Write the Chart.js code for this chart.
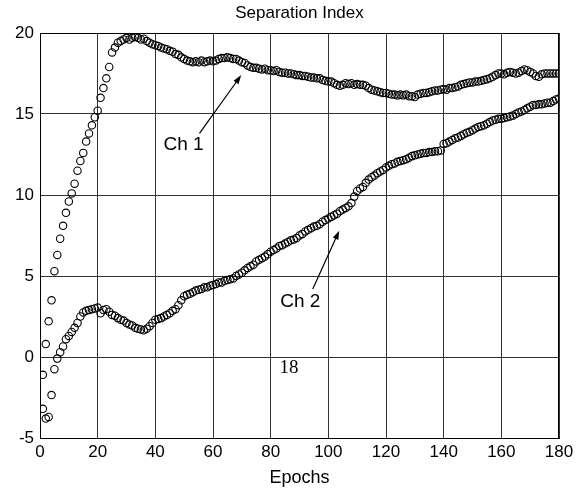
<!DOCTYPE html>
<html>
<head>
<meta charset="utf-8">
<title>Separation Index</title>
<script src="https://cdn.jsdelivr.net/npm/chart.js@4.4.1/dist/chart.umd.min.js"></script>
<style>
  html, body { margin: 0; padding: 0; background: #fff; }
  canvas { display: block; }
</style>
</head>
<body>
<canvas id="chart" width="579" height="496"></canvas>
<script>
// values, one per epoch (1..180)
const ch1 = [
  -1.1, 0.8, 2.2, 3.5, 5.3, 6.3, 7.3, 8.1, 8.9, 9.6,
  10.1, 10.7, 11.5, 12.1, 12.6, 13.3, 13.8, 14.3, 14.8, 15.2,
  16.0, 16.6, 17.2, 17.9, 18.8, 19.1, 19.4, 19.5, 19.6, 19.7,
  19.6, 19.7, 19.75, 19.7, 19.6, 19.65, 19.5, 19.4, 19.3, 19.25,
  19.2, 19.1, 19.05, 19.0, 18.9, 18.85, 18.7, 18.65, 18.5, 18.4,
  18.3, 18.25, 18.2, 18.25, 18.2, 18.3, 18.2, 18.25, 18.3, 18.25,
  18.3, 18.4, 18.45, 18.45, 18.5, 18.45, 18.4, 18.4, 18.3, 18.2,
  18.15, 18.0, 17.9, 17.85, 17.85, 17.8, 17.75, 17.8, 17.7, 17.7,
  17.65, 17.7, 17.6, 17.55, 17.55, 17.5, 17.5, 17.45, 17.4, 17.4,
  17.35, 17.35, 17.3, 17.25, 17.25, 17.2, 17.2, 17.1, 17.05, 17.0,
  17.0, 16.9, 16.8, 16.75, 16.8, 16.9, 16.85, 16.9, 16.8, 16.85,
  16.8, 16.8, 16.75, 16.6, 16.5, 16.45, 16.4, 16.35, 16.3, 16.3,
  16.25, 16.2, 16.2, 16.15, 16.2, 16.15, 16.2, 16.1, 16.1, 16.05,
  16.2, 16.25, 16.3, 16.3, 16.35, 16.4, 16.45, 16.45, 16.5, 16.55,
  16.5, 16.6, 16.6, 16.65, 16.7, 16.8, 16.85, 16.9, 16.95, 16.95,
  17.0, 17.0, 17.05, 17.1, 17.15, 17.2, 17.3, 17.4, 17.5, 17.5,
  17.45, 17.55, 17.6, 17.55, 17.5, 17.55, 17.65, 17.75, 17.7, 17.6,
  17.5, 17.35, 17.3, 17.45, 17.5, 17.5, 17.5, 17.5, 17.5, 17.5
];
const ch2 = [
  -3.2, -3.8, -3.7, -2.35, -0.75, -0.1, 0.3, 0.65, 1.1, 1.3,
  1.55, 1.8, 2.1, 2.5, 2.75, 2.85, 2.9, 2.95, 3.0, 3.05,
  2.7, 2.9, 2.95, 2.8, 2.6, 2.55, 2.4, 2.3, 2.25, 2.1,
  2.0, 1.95, 1.8, 1.75, 1.7, 1.65, 1.75, 1.9, 2.1, 2.3,
  2.35, 2.4, 2.5, 2.6, 2.7, 2.85, 2.95, 3.2, 3.5, 3.75,
  3.85, 3.9, 4.0, 4.1, 4.15, 4.2, 4.3, 4.3, 4.4, 4.45,
  4.5, 4.6, 4.6, 4.7, 4.75, 4.8, 4.85, 5.0, 5.1, 5.2,
  5.35, 5.5, 5.6, 5.7, 5.9, 6.0, 6.1, 6.2, 6.35, 6.5,
  6.6, 6.7, 6.85, 6.9, 7.0, 7.1, 7.2, 7.25, 7.35, 7.5,
  7.6, 7.75, 7.85, 7.95, 8.05, 8.1, 8.2, 8.35, 8.45, 8.55,
  8.65, 8.75, 8.85, 9.0, 9.1, 9.2, 9.3, 9.5, 9.9, 10.25,
  10.4, 10.5, 10.75, 10.95, 11.1, 11.2, 11.35, 11.45, 11.55, 11.7,
  11.8, 11.9, 11.95, 12.05, 12.1, 12.15, 12.2, 12.3, 12.4, 12.45,
  12.5, 12.55, 12.6, 12.6, 12.65, 12.65, 12.7, 12.7, 12.75, 13.15,
  13.2, 13.3, 13.4, 13.5, 13.55, 13.65, 13.75, 13.85, 13.9, 14.0,
  14.1, 14.2, 14.25, 14.3, 14.4, 14.5, 14.6, 14.65, 14.7, 14.7,
  14.75, 14.8, 14.85, 14.9, 15.0, 15.1, 15.15, 15.25, 15.35, 15.45,
  15.55, 15.55, 15.6, 15.6, 15.65, 15.7, 15.7, 15.8, 15.9, 15.95
];
const epochs = ch1.map((_, i) => i + 1);
const xTicks = [0, 20, 40, 60, 80, 100, 120, 140, 160, 180];
const yTicks = [-5, 0, 5, 10, 15, 20];

// text callouts, in data units
const notes = [
  { text: 'Ch 1', at: [49.8, 13.1], from: [55.3, 13.8], to: [69.8, 17.4] },
  { text: 'Ch 2', at: [90.3, 3.4],  from: [94.6, 4.2],  to: [103.8, 7.8] }
];
const pageNo = { text: '18', at: [86.4, -0.7] };

const toPts = vals => vals.map((v, i) => ({ x: epochs[i], y: v }));

const ring = {
  showLine: false,
  pointStyle: 'circle',
  pointRadius: 3.7,
  pointBorderWidth: 1.1,
  pointBorderColor: '#000',
  pointBackgroundColor: 'rgba(0,0,0,0)',
  pointHoverRadius: 3.7
};

const decor = {
  id: 'decor',
  afterDraw(chart) {
    const { ctx, chartArea: a, scales: { x, y } } = chart;
    ctx.save();
    // full frame
    ctx.strokeStyle = '#000';
    ctx.lineWidth = 1;
    ctx.strokeRect(a.left + 0.5, a.top + 0.5, a.right - a.left - 1, a.bottom - a.top);

    ctx.fillStyle = '#000';
    ctx.textAlign = 'center';
    ctx.textBaseline = 'middle';
    ctx.font = '17px "Liberation Sans", Arial, sans-serif';
    ctx.fillText('Separation Index', (a.left + a.right) / 2, 13);
    ctx.font = '18px "Liberation Sans", Arial, sans-serif';
    ctx.fillText('Epochs', (a.left + a.right) / 2, 478);

    // callouts with arrows
    notes.forEach(n => {
      ctx.font = '19px "Liberation Sans", Arial, sans-serif';
      ctx.fillText(n.text, x.getPixelForValue(n.at[0]), y.getPixelForValue(n.at[1]));
      const x0 = x.getPixelForValue(n.from[0]), y0 = y.getPixelForValue(n.from[1]);
      const x1 = x.getPixelForValue(n.to[0]),   y1 = y.getPixelForValue(n.to[1]);
      const ang = Math.atan2(y1 - y0, x1 - x0);
      ctx.strokeStyle = '#000';
      ctx.lineWidth = 1.2;
      ctx.beginPath();
      ctx.moveTo(x0, y0);
      ctx.lineTo(x1 - 6 * Math.cos(ang), y1 - 6 * Math.sin(ang));
      ctx.stroke();
      ctx.beginPath();
      ctx.moveTo(x1, y1);
      ctx.lineTo(x1 - 9 * Math.cos(ang) + 3 * Math.sin(ang), y1 - 9 * Math.sin(ang) - 3 * Math.cos(ang));
      ctx.lineTo(x1 - 9 * Math.cos(ang) - 3 * Math.sin(ang), y1 - 9 * Math.sin(ang) + 3 * Math.cos(ang));
      ctx.closePath();
      ctx.fill();
    });

    ctx.font = '19px "Liberation Serif", "Times New Roman", serif';
    ctx.fillText(pageNo.text, x.getPixelForValue(pageNo.at[0]), y.getPixelForValue(pageNo.at[1]));
    ctx.restore();
  }
};

new Chart(document.getElementById('chart'), {
  type: 'scatter',
  data: {
    datasets: [
      { label: 'Ch 1', data: toPts(ch1), ...ring },
      { label: 'Ch 2', data: toPts(ch2), ...ring }
    ]
  },
  options: {
    responsive: false,
    animation: false,
    events: [],
    layout: { padding: { left: 0, right: 20, top: 33, bottom: 0 } },
    plugins: {
      legend: { display: false },
      title: { display: false },
      tooltip: { enabled: false }
    },
    scales: {
      x: {
        type: 'linear',
        min: 0, max: 180,
        afterFit: s => { s.height = 58; },
        afterBuildTicks: s => { s.ticks = xTicks.map(v => ({ value: v })); },
        ticks: {
          color: '#000', padding: 4, maxRotation: 0, autoSkip: false,
          font: { family: '"Liberation Sans", Arial, sans-serif', size: 17 }
        },
        grid: { color: '#333', lineWidth: 1, drawTicks: false },
        border: { color: '#000', width: 1 }
      },
      y: {
        type: 'linear',
        min: -5, max: 20,
        afterFit: s => { s.width = 40; },
        afterBuildTicks: s => { s.ticks = yTicks.map(v => ({ value: v })); },
        ticks: {
          color: '#000', padding: 6, autoSkip: false,
          font: { family: '"Liberation Sans", Arial, sans-serif', size: 17 }
        },
        grid: { color: '#333', lineWidth: 1, drawTicks: false },
        border: { color: '#000', width: 1 }
      }
    }
  },
  plugins: [decor]
});
</script>
</body>
</html>
